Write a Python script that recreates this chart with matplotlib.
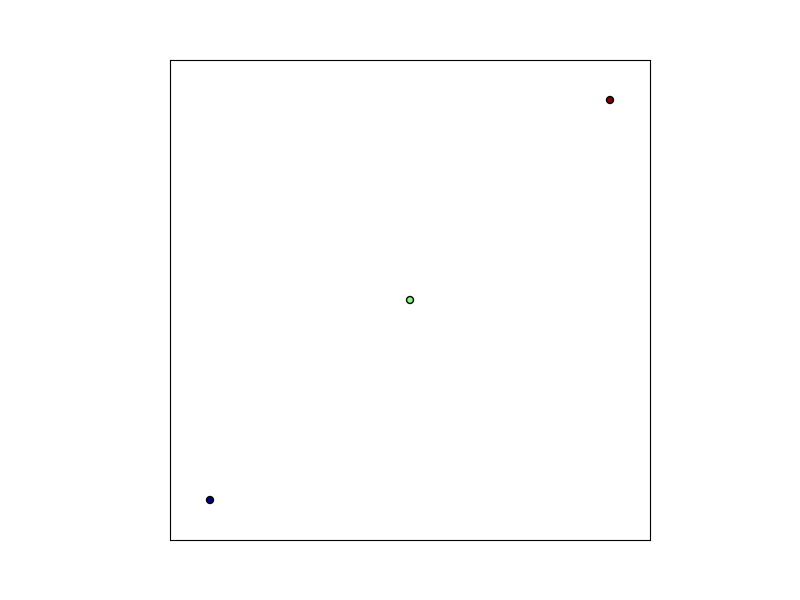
import matplotlib
matplotlib.use("Agg")
import matplotlib.pyplot as plt
import numpy as np

x = [0, 1, 2]
y = [0, 1, 2]
c = [0, 1, 2]

fig = plt.figure(figsize=(8, 6), dpi=100)
ax = fig.add_axes([0.2125, 0.1, 0.6, 0.8])
ax.scatter(x, y, c=c, cmap='jet', s=25, edgecolors='black', linewidths=1.0)
ax.set_xlim(-0.2, 2.2)
ax.set_ylim(-0.2, 2.2)
ax.set_xticks([])
ax.set_yticks([])
fig.savefig("out.png", dpi=100)
